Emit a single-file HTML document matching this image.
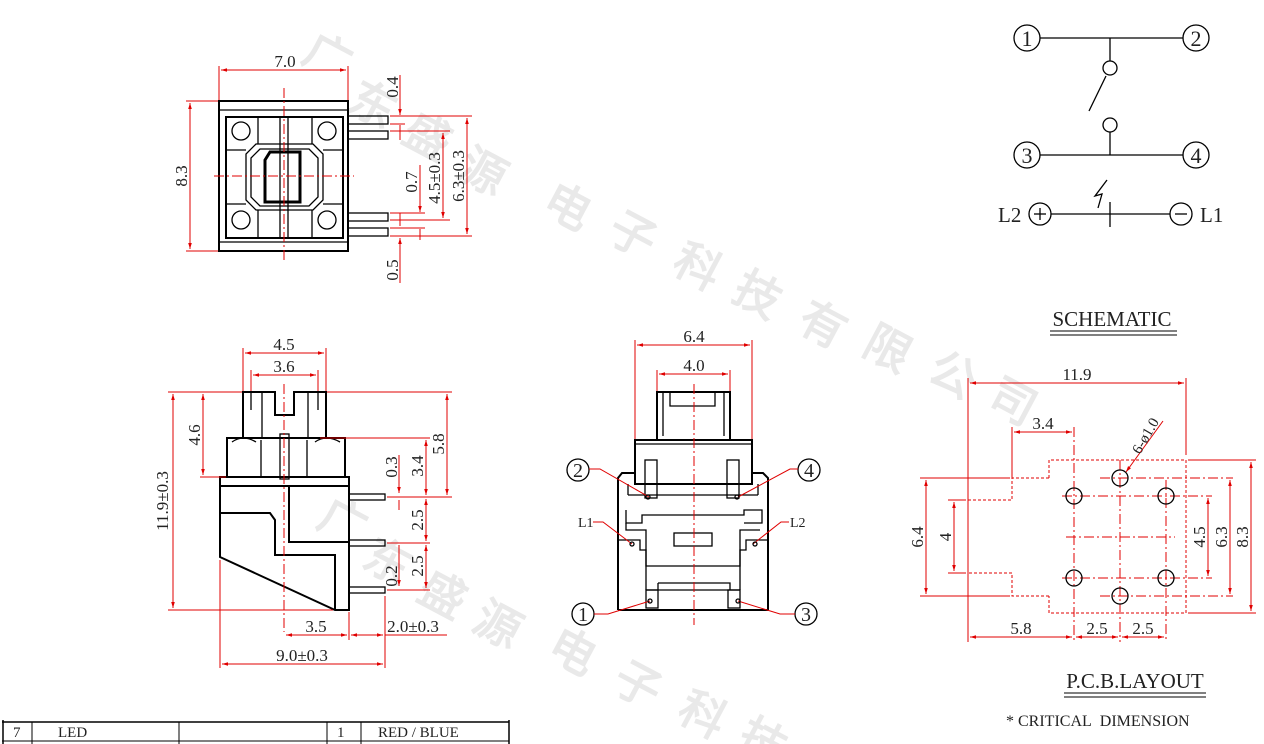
<!DOCTYPE html>
<html><head><meta charset="utf-8"><style>
html,body{margin:0;padding:0;background:#fff;}
svg{display:block;}
text{font-family:"Liberation Serif",serif;}
.r{stroke:#e00000;stroke-width:1;fill:none;}
.k{stroke:#000;stroke-width:2;fill:none;}
.k1{stroke:#000;stroke-width:1.3;fill:none;}
.c{stroke:#e00000;stroke-width:1;stroke-dasharray:10,3,2,3;fill:none;}
.d{stroke:#e00000;stroke-width:1;stroke-dasharray:3,2;fill:none;}
.t{font-size:17px;fill:#222;}
.wm{font-family:"Noto Sans CJK SC",sans-serif;font-size:46px;fill:#e9e9e9;font-weight:bold;}
</style></head><body>
<svg width="1264" height="744" viewBox="0 0 1264 744" xmlns="http://www.w3.org/2000/svg">
<defs>
<marker id="a" viewBox="0 0 10 10" refX="10" refY="5" markerWidth="8" markerHeight="6" orient="auto-start-reverse"><path d="M0,2 L10,5 L0,8z" fill="#e00000"/></marker>
</defs>
<g class="wm">
<text transform="translate(300,60) rotate(28)">广</text>
<text transform="translate(345,108) rotate(28)">东</text>
<text transform="translate(400,140) rotate(28)">盛</text>
<text transform="translate(455,175) rotate(28)">源</text>
<text transform="translate(540,210) rotate(28)">电</text>
<text transform="translate(605,238) rotate(28)">子</text>
<text transform="translate(670,270) rotate(28)">科</text>
<text transform="translate(730,298) rotate(28)">技</text>
<text transform="translate(795,328) rotate(28)">有</text>
<text transform="translate(860,352) rotate(28)">限</text>
<text transform="translate(925,378) rotate(28)">公</text>
<text transform="translate(985,405) rotate(28)">司</text>
<text transform="translate(315,525) rotate(28)">广</text>
<text transform="translate(360,565) rotate(28)">东</text>
<text transform="translate(415,598) rotate(28)">盛</text>
<text transform="translate(470,628) rotate(28)">源</text>
<text transform="translate(545,655) rotate(28)">电</text>
<text transform="translate(610,688) rotate(28)">子</text>
<text transform="translate(675,718) rotate(28)">科</text>
<text transform="translate(735,745) rotate(28)">技</text>
</g>

<!-- ===== VIEW 1 top ===== -->
<g>
<rect x="219" y="101" width="129" height="150" class="k"/>
<line x1="219" y1="110" x2="348" y2="110" class="k1"/>
<line x1="219" y1="242" x2="348" y2="242" class="k1"/>
<rect x="226" y="117" width="117" height="121" class="k"/>
<line x1="258" y1="117" x2="258" y2="144" class="k1"/><line x1="258" y1="210" x2="258" y2="238" class="k1"/>
<line x1="312" y1="117" x2="312" y2="144" class="k1"/><line x1="312" y1="210" x2="312" y2="238" class="k1"/>
<line x1="226" y1="150" x2="246" y2="150" class="k1"/><line x1="323" y1="150" x2="343" y2="150" class="k1"/>
<line x1="226" y1="204" x2="246" y2="204" class="k1"/><line x1="323" y1="204" x2="343" y2="204" class="k1"/>
<circle cx="241" cy="131" r="9" class="k1"/><circle cx="327" cy="131" r="9" class="k1"/>
<circle cx="241" cy="220" r="9" class="k1"/><circle cx="327" cy="220" r="9" class="k1"/>
<path d="M256,144 H313 L323,154 V200 L313,210 H256 L246,200 V154Z" class="k1"/>
<path d="M260,149 H309 L318,158 V197 L309,206 H260 L251,197 V158Z" class="k1"/>
<path d="M270,152 H300 V202 H265 V160Z" fill="none" stroke="#000" stroke-width="3"/>
<rect x="280" y="117" width="8" height="121" fill="#fff" class="k1"/>
<rect x="348" y="116" width="40" height="8" class="k1"/><rect x="348" y="131" width="40" height="8" class="k1"/>
<rect x="348" y="213" width="40" height="8" class="k1"/><rect x="348" y="228" width="40" height="8" class="k1"/>
<line x1="284" y1="88" x2="284" y2="262" class="c"/>
<line x1="214" y1="176" x2="354" y2="176" class="c"/>
<line x1="219" y1="66" x2="219" y2="100" class="r"/><line x1="348" y1="66" x2="348" y2="100" class="r"/>
<line x1="221" y1="70" x2="346" y2="70" class="r" marker-start="url(#a)" marker-end="url(#a)"/>
<text x="285" y="67" class="t" text-anchor="middle">7.0</text>
<line x1="186" y1="101" x2="218" y2="101" class="r"/><line x1="186" y1="251" x2="218" y2="251" class="r"/>
<line x1="190" y1="103" x2="190" y2="249" class="r" marker-start="url(#a)" marker-end="url(#a)"/>
<text transform="translate(187,176) rotate(-90)" class="t" text-anchor="middle">8.3</text>
<line x1="390" y1="116" x2="405" y2="116" class="r"/><line x1="390" y1="124" x2="405" y2="124" class="r"/>
<line x1="400" y1="75" x2="400" y2="115" class="r" marker-end="url(#a)"/><line x1="400" y1="125" x2="400" y2="140" class="r"/>
<text transform="translate(398,87) rotate(-90)" class="t" text-anchor="middle">0.4</text>
<line x1="390" y1="131" x2="450" y2="131" class="r"/><line x1="390" y1="220" x2="450" y2="220" class="r"/>
<line x1="443" y1="133" x2="443" y2="218" class="r" marker-start="url(#a)" marker-end="url(#a)"/>
<text transform="translate(440,178) rotate(-90)" class="t" text-anchor="middle">4.5±0.3</text>
<line x1="390" y1="116" x2="472" y2="116" class="r"/><line x1="390" y1="236" x2="472" y2="236" class="r"/>
<line x1="467" y1="118" x2="467" y2="234" class="r" marker-start="url(#a)" marker-end="url(#a)"/>
<text transform="translate(464,176) rotate(-90)" class="t" text-anchor="middle">6.3±0.3</text>
<line x1="390" y1="213" x2="425" y2="213" class="r"/><line x1="390" y1="228" x2="425" y2="228" class="r"/>
<line x1="420" y1="165" x2="420" y2="212" class="r" marker-end="url(#a)"/><line x1="420" y1="229" x2="420" y2="240" class="r"/>
<text transform="translate(417,182) rotate(-90)" class="t" text-anchor="middle">0.7</text>
<line x1="400" y1="213" x2="400" y2="226" class="r"/>
<line x1="400" y1="250" x2="400" y2="238" class="r" marker-end="url(#a)"/><line x1="400" y1="250" x2="400" y2="283" class="r"/>
<text transform="translate(398,270) rotate(-90)" class="t" text-anchor="middle">0.5</text>
</g>

<!-- ===== VIEW 2 side ===== -->
<g>
<path d="M243,392 H275 V415 H294 V392 H326 V438 H243Z" class="k"/>
<line x1="251" y1="392" x2="251" y2="410" class="k1"/><line x1="262" y1="392" x2="262" y2="438" class="k1"/>
<line x1="318" y1="392" x2="318" y2="410" class="k1"/><line x1="308" y1="392" x2="308" y2="438" class="k1"/>
<rect x="227" y="438" width="118" height="39" class="k"/>
<line x1="261" y1="440" x2="261" y2="477" class="k1"/><line x1="307" y1="440" x2="307" y2="477" class="k1"/>
<rect x="280" y="434" width="9" height="45" fill="#fff" class="k1"/>
<path d="M232,442 Q243,434 256,442" class="k1"/><path d="M315,442 Q326,434 340,442" class="k1"/>
<rect x="220" y="477" width="129" height="9" class="k"/>
<path d="M220,486 V557 L335,610 H349 V486" class="k"/>
<path d="M220,513 H270 L275,520 V555 H335 V610" class="k"/>
<path d="M289,486 V542 H349" class="k"/>
<rect x="349" y="494" width="36" height="6" class="k1"/>
<rect x="349" y="540" width="36" height="6" class="k1"/>
<rect x="349" y="587" width="36" height="6" class="k1"/>
<line x1="284" y1="384" x2="284" y2="632" class="c"/>
<line x1="243" y1="348" x2="243" y2="391" class="r"/><line x1="326" y1="348" x2="326" y2="391" class="r"/>
<line x1="245" y1="353" x2="324" y2="353" class="r" marker-start="url(#a)" marker-end="url(#a)"/>
<text x="284" y="350" class="t" text-anchor="middle">4.5</text>
<line x1="251" y1="370" x2="251" y2="391" class="r"/><line x1="318" y1="370" x2="318" y2="391" class="r"/>
<line x1="253" y1="375" x2="316" y2="375" class="r" marker-start="url(#a)" marker-end="url(#a)"/>
<text x="284" y="372" class="t" text-anchor="middle">3.6</text>
<line x1="168" y1="392" x2="242" y2="392" class="r"/><line x1="168" y1="610" x2="333" y2="610" class="r"/>
<line x1="173" y1="394" x2="173" y2="608" class="r" marker-start="url(#a)" marker-end="url(#a)"/>
<text transform="translate(168,501) rotate(-90)" class="t" text-anchor="middle">11.9±0.3</text>
<line x1="200" y1="477" x2="226" y2="477" class="r"/>
<line x1="203" y1="394" x2="203" y2="475" class="r" marker-start="url(#a)" marker-end="url(#a)"/>
<text transform="translate(200,435) rotate(-90)" class="t" text-anchor="middle">4.6</text>
<line x1="327" y1="392" x2="452" y2="392" class="r"/><line x1="387" y1="497" x2="452" y2="497" class="r"/>
<line x1="447" y1="394" x2="447" y2="495" class="r" marker-start="url(#a)" marker-end="url(#a)"/>
<text transform="translate(444,444) rotate(-90)" class="t" text-anchor="middle">5.8</text>
<line x1="320" y1="438" x2="430" y2="438" class="r"/>
<line x1="426" y1="440" x2="426" y2="495" class="r" marker-start="url(#a)" marker-end="url(#a)"/>
<text transform="translate(423,466) rotate(-90)" class="t" text-anchor="middle">3.4</text>
<line x1="399" y1="455" x2="399" y2="493" class="r" marker-end="url(#a)"/><line x1="399" y1="500" x2="399" y2="510" class="r"/>
<text transform="translate(397,467) rotate(-90)" class="t" text-anchor="middle">0.3</text>
<line x1="387" y1="543" x2="430" y2="543" class="r"/><line x1="387" y1="590" x2="430" y2="590" class="r"/>
<line x1="426" y1="499" x2="426" y2="541" class="r" marker-start="url(#a)" marker-end="url(#a)"/>
<line x1="426" y1="545" x2="426" y2="588" class="r" marker-start="url(#a)" marker-end="url(#a)"/>
<text transform="translate(423,520) rotate(-90)" class="t" text-anchor="middle">2.5</text>
<text transform="translate(423,566) rotate(-90)" class="t" text-anchor="middle">2.5</text>
<line x1="399" y1="545" x2="399" y2="586" class="r" marker-end="url(#a)"/>
<text transform="translate(397,576) rotate(-90)" class="t" text-anchor="middle">0.2</text>
<line x1="349" y1="612" x2="349" y2="640" class="r"/><line x1="385" y1="596" x2="385" y2="668" class="r"/>
<line x1="220" y1="560" x2="220" y2="668" class="r"/>
<line x1="286" y1="635" x2="347" y2="635" class="r" marker-start="url(#a)" marker-end="url(#a)"/>
<text x="316" y="632" class="t" text-anchor="middle">3.5</text>
<line x1="351" y1="635" x2="383" y2="635" class="r" marker-start="url(#a)" marker-end="url(#a)"/>
<line x1="385" y1="635" x2="447" y2="635" class="r"/>
<text x="413" y="632" class="t" text-anchor="middle">2.0±0.3</text>
<line x1="222" y1="664" x2="383" y2="664" class="r" marker-start="url(#a)" marker-end="url(#a)"/>
<text x="302" y="661" class="t" text-anchor="middle">9.0±0.3</text>
</g>

<!-- ===== VIEW 3 front ===== -->
<g>
<path d="M657,440 V392 H730 V440" class="k"/>
<line x1="663" y1="392" x2="663" y2="436" class="k1"/><line x1="724" y1="392" x2="724" y2="436" class="k1"/>
<path d="M670,392 V406 H715 V392" class="k1"/>
<path d="M618,610 V478 L622,473 H636 M752,473 H763 L768,478 V610 H618" class="k"/>
<rect x="635" y="440" width="117" height="44" class="k" fill="#fff"/>
<line x1="635" y1="444" x2="752" y2="444" class="k1"/>
<line x1="628" y1="484" x2="628" y2="495" class="k1"/><line x1="758" y1="484" x2="758" y2="495" class="k1"/>
<path d="M628,495 H758" class="k1"/>
<path d="M626,510 V523 H642 V515 H744 V510 H762 V523 H744" class="k1"/>
<path d="M626,523 V530 H646 V566 H740 V530 H760" class="k1"/>
<rect x="674" y="533" width="38" height="13" class="k1"/>
<path d="M618,540 H640 V550 H646 V590 M768,540 H746 V550 H740 V590" class="k1"/>
<path d="M646,590 H740 M658,583 H730 V590 M658,583 V590" class="k1"/>
<rect x="646" y="590" width="12" height="18" class="k1"/><rect x="728" y="590" width="12" height="18" class="k1"/>
<rect x="645" y="460" width="12" height="38" class="k1"/><rect x="727" y="460" width="12" height="38" class="k1"/>
<line x1="694" y1="384" x2="694" y2="625" class="c"/>
<line x1="635" y1="340" x2="635" y2="439" class="r"/><line x1="752" y1="340" x2="752" y2="439" class="r"/>
<line x1="637" y1="345" x2="750" y2="345" class="r" marker-start="url(#a)" marker-end="url(#a)"/>
<text x="694" y="342" class="t" text-anchor="middle">6.4</text>
<line x1="657" y1="370" x2="657" y2="391" class="r"/><line x1="730" y1="370" x2="730" y2="391" class="r"/>
<line x1="659" y1="374" x2="728" y2="374" class="r" marker-start="url(#a)" marker-end="url(#a)"/>
<text x="694" y="371" class="t" text-anchor="middle">4.0</text>
<circle cx="578" cy="470" r="11" class="k1"/><text x="578" y="477" class="t" text-anchor="middle" style="font-size:20px">2</text>
<path d="M589,469 H600 L649,497" class="r"/>
<circle cx="809" cy="470" r="11" class="k1"/><text x="809" y="477" class="t" text-anchor="middle" style="font-size:20px">4</text>
<path d="M798,469 H790 L738,497" class="r"/>
<circle cx="583" cy="614" r="11" class="k1"/><text x="583" y="621" class="t" text-anchor="middle" style="font-size:20px">1</text>
<path d="M594,614 H608 L650,601" class="r"/>
<circle cx="806" cy="614" r="11" class="k1"/><text x="806" y="621" class="t" text-anchor="middle" style="font-size:20px">3</text>
<path d="M795,614 H780 L738,601" class="r"/>
<text x="578" y="527" class="t" style="font-size:14px">L1</text>
<path d="M593,522 H603 L632,544" class="r"/>
<text x="790" y="527" class="t" style="font-size:14px">L2</text>
<path d="M789,522 H781 L753,544" class="r"/>
<circle cx="648" cy="497" r="2" class="k1"/><circle cx="737" cy="497" r="2" class="k1"/>
<circle cx="650" cy="601" r="2" class="k1"/><circle cx="738" cy="601" r="2" class="k1"/>
<circle cx="632" cy="544" r="2" class="k1"/><circle cx="755" cy="544" r="2" class="k1"/>
</g>

<!-- ===== Schematic ===== -->
<g>
<circle cx="1027" cy="38" r="13" class="k1"/><text x="1027" y="46" class="t" style="font-size:22px" text-anchor="middle">1</text>
<circle cx="1196" cy="38" r="13" class="k1"/><text x="1196" y="46" class="t" style="font-size:22px" text-anchor="middle">2</text>
<circle cx="1027" cy="155" r="13" class="k1"/><text x="1027" y="163" class="t" style="font-size:22px" text-anchor="middle">3</text>
<circle cx="1196" cy="155" r="13" class="k1"/><text x="1196" y="163" class="t" style="font-size:22px" text-anchor="middle">4</text>
<line x1="1040" y1="38" x2="1183" y2="38" class="k1"/><line x1="1040" y1="155" x2="1183" y2="155" class="k1"/>
<line x1="1110" y1="38" x2="1110" y2="61" class="k1"/>
<circle cx="1110" cy="68" r="7" class="k1"/>
<line x1="1106" y1="76" x2="1089" y2="111" class="k1"/>
<circle cx="1110" cy="125" r="7" class="k1"/>
<line x1="1110" y1="132" x2="1110" y2="155" class="k1"/>
<circle cx="1040" cy="214" r="11" class="k1"/>
<line x1="1034" y1="214" x2="1046" y2="214" class="k1"/><line x1="1040" y1="208" x2="1040" y2="220" class="k1"/>
<circle cx="1181" cy="214" r="11" class="k1"/><line x1="1175" y1="214" x2="1187" y2="214" class="k1"/>
<line x1="1051" y1="214" x2="1170" y2="214" class="k1"/>
<line x1="1110" y1="202" x2="1110" y2="227" class="k1"/>
<path d="M1107,180 L1095,196 L1102,194 L1098,208" class="k1"/>
<text x="998" y="222" class="t" style="font-size:21px">L2</text>
<text x="1200" y="222" class="t" style="font-size:21px">L1</text>
<text x="1112" y="326" class="t" style="font-size:21px" text-anchor="middle">SCHEMATIC</text>
<line x1="1050" y1="331" x2="1177" y2="331" stroke="#000"/><line x1="1050" y1="335" x2="1177" y2="335" stroke="#000"/>
</g>

<!-- ===== PCB ===== -->
<g>
<path d="M1049,478 V460 H1186 V613 H1049 V596" class="d"/>
<path d="M1049,478 H1012 V500 H968" class="d"/>
<path d="M1049,596 H1012 V573 H968" class="d"/>
<line x1="968" y1="500" x2="968" y2="573" class="d"/>
<line x1="968" y1="378" x2="968" y2="642" class="r"/>
<line x1="1186" y1="378" x2="1186" y2="455" class="r"/>
<line x1="970" y1="383" x2="1184" y2="383" class="r" marker-start="url(#a)" marker-end="url(#a)"/>
<text x="1077" y="380" class="t" text-anchor="middle">11.9</text>
<line x1="1012" y1="427" x2="1012" y2="478" class="r"/>
<line x1="1014" y1="432" x2="1072" y2="432" class="r" marker-start="url(#a)" marker-end="url(#a)"/>
<text x="1043" y="429" class="t" text-anchor="middle">3.4</text>
<line x1="1074" y1="427" x2="1074" y2="642" class="c"/>
<line x1="1120" y1="460" x2="1120" y2="642" class="c"/>
<line x1="1166" y1="480" x2="1166" y2="642" class="c"/>
<line x1="1062" y1="496" x2="1212" y2="496" class="c"/>
<line x1="1062" y1="578" x2="1212" y2="578" class="c"/>
<line x1="1100" y1="478" x2="1233" y2="478" class="c"/>
<line x1="1100" y1="596" x2="1233" y2="596" class="c"/>
<line x1="1066" y1="537" x2="1175" y2="537" class="c"/>
<line x1="1188" y1="460" x2="1256" y2="460" class="r"/><line x1="1188" y1="613" x2="1256" y2="613" class="r"/>
<line x1="920" y1="478" x2="1010" y2="478" class="r"/><line x1="920" y1="596" x2="1010" y2="596" class="r"/>
<line x1="948" y1="500" x2="966" y2="500" class="r"/><line x1="948" y1="573" x2="966" y2="573" class="r"/>
<g class="k1" stroke-width="1.3">
<circle cx="1074" cy="496" r="8"/><circle cx="1166" cy="496" r="8"/>
<circle cx="1074" cy="578" r="8"/><circle cx="1166" cy="578" r="8"/>
<circle cx="1120" cy="478" r="8"/><circle cx="1120" cy="596" r="8"/>
</g>
<line x1="1163" y1="421" x2="1126" y2="472" class="r" marker-end="url(#a)"/>
<text transform="translate(1140,455) rotate(-60)" class="t" style="font-size:15px">6-ø1.0</text>
<line x1="926" y1="480" x2="926" y2="594" class="r" marker-start="url(#a)" marker-end="url(#a)"/>
<text transform="translate(923,537) rotate(-90)" class="t" text-anchor="middle">6.4</text>
<line x1="954" y1="502" x2="954" y2="571" class="r" marker-start="url(#a)" marker-end="url(#a)"/>
<text transform="translate(951,537) rotate(-90)" class="t" text-anchor="middle">4</text>
<line x1="1208" y1="498" x2="1208" y2="576" class="r" marker-start="url(#a)" marker-end="url(#a)"/>
<text transform="translate(1205,537) rotate(-90)" class="t" text-anchor="middle">4.5</text>
<line x1="1230" y1="480" x2="1230" y2="594" class="r" marker-start="url(#a)" marker-end="url(#a)"/>
<text transform="translate(1227,537) rotate(-90)" class="t" text-anchor="middle">6.3</text>
<line x1="1251" y1="462" x2="1251" y2="611" class="r" marker-start="url(#a)" marker-end="url(#a)"/>
<text transform="translate(1248,537) rotate(-90)" class="t" text-anchor="middle">8.3</text>
<line x1="970" y1="637" x2="1072" y2="637" class="r" marker-start="url(#a)" marker-end="url(#a)"/>
<line x1="1076" y1="637" x2="1118" y2="637" class="r" marker-start="url(#a)" marker-end="url(#a)"/>
<line x1="1122" y1="637" x2="1164" y2="637" class="r" marker-start="url(#a)" marker-end="url(#a)"/>
<text x="1021" y="634" class="t" text-anchor="middle">5.8</text>
<text x="1097" y="634" class="t" text-anchor="middle">2.5</text>
<text x="1143" y="634" class="t" text-anchor="middle">2.5</text>
<text x="1135" y="688" class="t" style="font-size:21px" text-anchor="middle">P.C.B.LAYOUT</text>
<line x1="1064" y1="693" x2="1206" y2="693" stroke="#000"/><line x1="1064" y1="697" x2="1206" y2="697" stroke="#000"/>
<text x="1006" y="726" class="t" style="font-size:16px">* CRITICAL&#160; DIMENSION</text>
</g>

<!-- table -->
<g>
<line x1="2" y1="722" x2="509" y2="722" stroke="#000" stroke-width="1.5"/>
<line x1="2" y1="741" x2="509" y2="741" stroke="#000" stroke-width="1"/>
<line x1="3" y1="720" x2="3" y2="744" stroke="#000" stroke-width="1.5"/>
<line x1="32" y1="722" x2="32" y2="744" stroke="#000"/>
<line x1="179" y1="722" x2="179" y2="744" stroke="#000"/>
<line x1="327" y1="722" x2="327" y2="744" stroke="#000"/>
<line x1="361" y1="722" x2="361" y2="744" stroke="#000"/>
<line x1="509" y1="720" x2="509" y2="744" stroke="#000" stroke-width="1.5"/>
<text x="13" y="737" class="t" style="font-size:15px">7</text>
<text x="58" y="737" class="t" style="font-size:15px">LED</text>
<text x="337" y="737" class="t" style="font-size:15px">1</text>
<text x="378" y="737" class="t" style="font-size:15px">RED / BLUE</text>
</g>
</svg>
</body></html>
